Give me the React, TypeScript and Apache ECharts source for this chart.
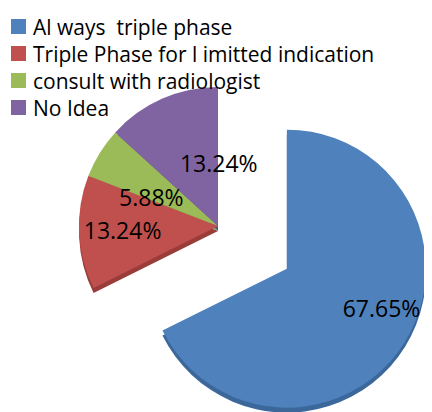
import React, { useEffect, useRef } from "react";
import * as echarts from "echarts";

const categories = [
  "Al ways  triple phase",
  "Triple Phase for l imitted indication",
  "consult with radiologist",
  "No Idea",
];
const values = [67.65, 13.24, 5.88, 13.24];
const colors = ["#4F81BD", "#C0504D", "#9BBB59", "#8064A2"];
const sideColors = ["#3B679A", "#9A3C3A", "#7C9A44", "#654E85"];
const labelOffsets = [
  [33, 1],
  [-23, 1],
  [-5, 9],
  [30, 3],
];

export default function App() {
  const ref = useRef<HTMLDivElement>(null);
  useEffect(() => {
    if (!ref.current) return;
    const chart = echarts.init(ref.current, undefined, { renderer: "svg" });
    const font = "'Open Sans', 'Liberation Sans', sans-serif";
    chart.setOption({
      animation: false,
      color: colors,
      legend: {
        orient: "vertical",
        left: 3,
        top: 8,
        padding: 0,
        icon: "rect",
        itemWidth: 15,
        itemHeight: 15,
        itemGap: 6,
        selectedMode: false,
        textStyle: { fontSize: 21, color: "#000", fontFamily: font, padding: [0, 0, 0, 2] },
        data: categories,
      },
      series: [
        {
          type: "pie",
          silent: true,
          center: [210, 223],
          radius: 139,
          startAngle: 90,
          selectedMode: "single",
          selectedOffset: 81,
          label: { show: false },
          labelLine: { show: false },
          data: categories.map((name, i) => ({
            name: name + " side",
            value: values[i],
            selected: i === 0,
            itemStyle: { color: sideColors[i] },
          })),
          legendHoverLink: false,
          z: 1,
        },
        {
          type: "pie",
          center: [210, 218],
          radius: 139,
          startAngle: 90,
          selectedMode: "single",
          selectedOffset: 81,
          itemStyle: { borderWidth: 0 },
          labelLine: { show: false },
          label: {
            show: true,
            position: "inside",
            color: "#000",
            fontSize: 23,
            fontFamily: font,
            formatter: (p: any) => p.value.toFixed(2) + "%",
          },
          data: categories.map((name, i) => ({
            name,
            value: values[i],
            selected: i === 0,
            label: { offset: labelOffsets[i] },
            select: { label: { offset: labelOffsets[i] } },
          })),
          z: 2,
        },
      ],
    });
    return () => chart.dispose();
  }, []);
  return <div ref={ref} style={{ width: 424, height: 404 }} />;
}
